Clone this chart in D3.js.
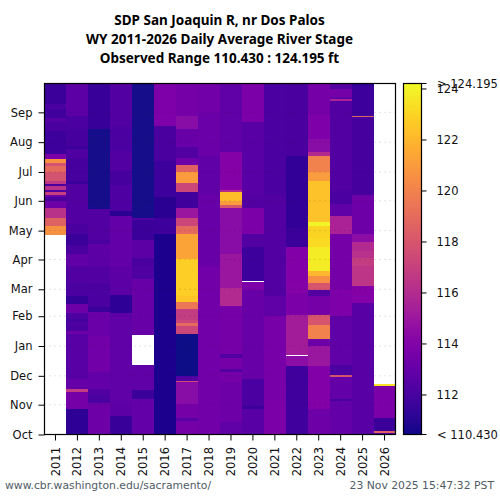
<!DOCTYPE html>
<html><head><meta charset="utf-8">
<script src="https://cdn.jsdelivr.net/npm/d3@7"></script>
<style>html,body{margin:0;padding:0;background:#fff}text{font-family:"DejaVu Sans",sans-serif}</style>
</head><body><svg id="c" width="500" height="500"></svg>
<script>
const titles=["SDP San Joaquin R, nr Dos Palos","WY 2011-2026 Daily Average River Stage","Observed Range 110.430 : 124.195 ft"];
const years=[2011,2012,2013,2014,2015,2016,2017,2018,2019,2020,2021,2022,2023,2024,2025,2026];
const monthNames=["Oct","Nov","Dec","Jan","Feb","Mar","Apr","May","Jun","Jul","Aug","Sep"];
const monthStarts=[0,31,61,92,123,151,182,212,243,273,304,335];
const stageMin=110.43, stageMax=124.195;
const barTicks=[112,114,116,118,120,122,124];
// each series: [start day of water year, stage]; a stage runs on to the next start, null = no data
const s2011=[[0,null],[207,120.6],[217,118.6],[226,116.3],[236,113.3],[243,112],[247,113.3],[250,117],[253,112.4],[255,116.3],[259,112],[261,116.6],[264,117.8],[273,118.9],[280,117.8],[283,120.6],[287,113.8],[292,111.7],[316,112],[325,112.5],[330,111.8],[339,112.2],[344,111.6]];
const s2012=[[0,111.2],[27,113.5],[45,116.8],[48,113],[58,112.6],[105,113.3],[108,112],[113,112.3],[118,111.9],[122,112.3],[127,113.3],[136,111.4],[145,112.1],[158,112.4],[176,112.8],[188,112],[198,111.6],[209,112],[219,112.4],[261,111.6],[264,111.9],[288,112.3],[297,111.6],[301,111.9],[318,112.1],[332,112.7]];
const s2013=[[0,113.3],[33,112.2],[42,112.4],[48,113],[65,113.4],[103,113.2],[128,111.6],[133,112.2],[155,111.9],[157,112.4],[176,112.7],[199,112],[203,112.4],[235,110.6],[318,111.5]];
const s2014=[[0,111.5],[20,112.7],[30,112.9],[127,111.2],[146,112.7],[176,113],[228,111.1],[233,112.3],[260,111.9],[275,112.4],[295,112.1],[320,112.4]];
const s2015=[[0,113],[37,111.6],[47,112.9],[72,null],[103,113.1],[162,112.3],[176,112],[184,112.7],[203,111.6],[224,112.4],[226,110.6]];
const s2016=[[0,110.7],[209,111.7],[226,111.1],[247,111.7],[285,112],[321,113.9]];
const s2017=[[0,113.6],[15,112.6],[18,113.6],[32,114.2],[55,117.5],[56,112.4],[61,110.5],[105,117.3],[113,119],[116,117.3],[120,116.8],[131,119.5],[138,122.5],[145,122.8],[183,121.3],[209,119],[217,117.3],[226,115],[236,111.8],[253,117.3],[262,121],[273,118.5],[281,113.3],[288,112.4],[300,113.1],[318,114.3],[332,113.5]];
const s2018=[[0,113.4],[176,113.1],[250,112.9],[290,113.2],[335,113.4]];
const s2019=[[0,112.9],[13,113.3],[55,113.6],[66,112.4],[69,113.5],[80,112.4],[84,113.5],[134,116],[153,115],[188,114.3],[236,118],[239,121],[243,122.3],[253,116],[255,114.1],[294,112.9]];
const s2020=[[0,112.6],[27,111.6],[30,112.1],[58,113.1],[151,113.8],[159,null],[160,111.7],[195,112.4],[209,113.8],[236,112.4],[250,112.6],[326,113.8]];
const s2021=[[0,113.8],[37,113.7],[124,112.9],[145,112.4],[250,112.2]];
const s2022=[[0,111.8],[72,114.4],[82,null],[83,115.3],[125,113.8],[148,114.1],[158,114],[195,111.6],[215,111.3],[290,112]];
const s2023=[[0,113.3],[27,114],[72,114.9],[93,113.3],[100,120],[114,118],[125,113.5],[145,112.4],[151,118],[158,120.5],[165,122],[171,123.8],[195,123.2],[205,123],[217,124],[222,122.4],[264,121],[274,120],[290,116],[294,114.3],[308,113.9],[333,113.5]];
const s2024=[[0,113],[35,112],[37,113],[60,118],[62,112.2],[73,112.9],[124,113.9],[152,113.6],[209,115.6],[228,112.9],[240,112.1],[254,112.4],[347,115.6],[349,112.9],[352,113.6],[360,112.4]];
const s2025=[[0,112.6],[137,114.1],[155,116.5],[176,116.8],[184,116.2],[191,116],[201,114.4],[209,113.3],[250,111.9],[331,118.5],[332,111.7],[362,111.4]];
const s2026=[[0,112.4],[2.5,118.5],[4,111.6],[18,113.8],[51,123.5],[52.5,null]];
const allSeries=[s2011,s2012,s2013,s2014,s2015,s2016,s2017,s2018,s2019,s2020,s2021,s2022,s2023,s2024,s2025,s2026];

const svg=d3.select("#c");
const L=44.5,R=395.5,T=83.5,B=434.5,daysInYear=365;
const x=d3.scaleBand().domain(years).range([L,R]);
const y=d3.scaleLinear().domain([0,daysInYear]).range([B,T]);
const color=d3.scaleSequential(d3.interpolatePlasma).domain([stageMin,stageMax]);

const defs=svg.append("defs");
const f=defs.append("filter").attr("id","soft").attr("filterUnits","userSpaceOnUse")
 .attr("x",0).attr("y",60).attr("width",500).attr("height",400);
f.append("feGaussianBlur").attr("stdDeviation","0 0.6");
defs.append("clipPath").attr("id","frame").append("rect").attr("x",L).attr("y",T).attr("width",R-L).attr("height",B-T);

const segs=[];
allSeries.forEach((ser,i)=>ser.forEach((d,j)=>segs.push({year:years[i],start:d[0],end:j+1<ser.length?ser[j+1][0]:daysInYear,v:d[1]})));
const plot=svg.append("g").attr("clip-path","url(#frame)");
plot.append("g").attr("filter","url(#soft)").selectAll("rect").data(segs.filter(d=>d.v!==null)).join("rect")
 .attr("shape-rendering","crispEdges")
 .attr("x",d=>x(d.year)).attr("width",x.bandwidth()+0.5)
 .attr("y",d=>y(d.end)).attr("height",d=>y(d.start)-y(d.end)+0.5)
 .attr("fill",d=>color(d.v));
plot.append("g").selectAll("rect").data(segs.filter(d=>d.v===null)).join("rect")
 .attr("shape-rendering","crispEdges")
 .attr("x",d=>x(d.year)).attr("width",x.bandwidth())
 .attr("y",d=>y(d.end)).attr("height",d=>y(d.start)-y(d.end))
 .attr("fill","#fff");

// dotted month grid
svg.append("g").selectAll("line").data(monthStarts.slice(1)).join("line")
 .attr("x1",L).attr("x2",R).attr("y1",d=>y(d)).attr("y2",d=>y(d))
 .attr("stroke","#000").attr("stroke-opacity",0.22).attr("stroke-dasharray","1,4");

svg.append("rect").attr("x",L).attr("y",T).attr("width",R-L).attr("height",B-T)
 .attr("fill","none").attr("stroke","#000").attr("stroke-width",1.2);

const fs="11.5px";
const yAxis=d3.axisLeft(y).tickValues(monthStarts).tickFormat((d,i)=>monthNames[i]).tickSize(6).tickPadding(6);
const ga=svg.append("g").attr("transform",`translate(${L},0)`).call(yAxis);
ga.select(".domain").remove();
ga.selectAll("text").style("font-size",fs).attr("fill","#111");

const xAxis=d3.axisBottom(x).tickSize(6).tickPadding(0);
const gx=svg.append("g").attr("transform",`translate(0,${B})`).call(xAxis);
gx.select(".domain").remove();
gx.selectAll("text").style("font-size",fs).attr("fill","#111")
 .attr("transform","rotate(-90)").attr("text-anchor","end").attr("dy","0.35em").attr("x",-12.5).attr("y",0);

// colour bar
const bx=403.5,bw=18;
const barY=d3.scaleLinear().domain([stageMin,stageMax]).range([B,T]);
const barSteps=d3.range(B-T);
svg.append("g").selectAll("rect").data(barSteps).join("rect")
 .attr("x",bx).attr("width",bw).attr("y",d=>T+d).attr("height",1.2)
 .attr("fill",d=>color(barY.invert(T+d+0.5))).attr("shape-rendering","crispEdges");
svg.append("rect").attr("x",bx).attr("y",T).attr("width",bw).attr("height",B-T)
 .attr("fill","none").attr("stroke","#000").attr("stroke-width",1.2);
const cb=svg.append("g").attr("transform",`translate(${bx+bw},0)`)
 .call(d3.axisRight(barY).tickValues(barTicks).tickFormat(d3.format("d")).tickSize(5).tickPadding(10));
cb.select(".domain").remove();
cb.selectAll("text").style("font-size",fs).attr("fill","#111");
[[stageMax,"> 124.195"],[stageMin,"< 110.430"]].forEach(([v,t])=>{
  svg.append("line").attr("x1",bx+bw).attr("x2",bx+bw+5).attr("y1",barY(v)).attr("y2",barY(v)).attr("stroke","#000");
  svg.append("text").attr("x",437).attr("y",barY(v)).attr("dy","0.35em").style("font-size",fs).attr("fill","#111").text(t);
});

svg.append("g").selectAll("text").data(titles).join("text")
 .attr("x",219.5).attr("y",(d,i)=>25+i*19).attr("text-anchor","middle")
 .style("font-family",'"Noto Sans",sans-serif').style("font-size","13.5px").style("font-weight","bold").attr("fill","#000").text(d=>d);
svg.append("text").attr("x",5).attr("y",489).style("font-size","10.8px").attr("fill","#4f5b66").text("www.cbr.washington.edu/sacramento/");
svg.append("text").attr("x",494).attr("y",489).attr("text-anchor","end").style("font-size","10.8px").attr("fill","#4f5b66").text("23 Nov 2025 15:47:32 PST");
</script></body></html>
